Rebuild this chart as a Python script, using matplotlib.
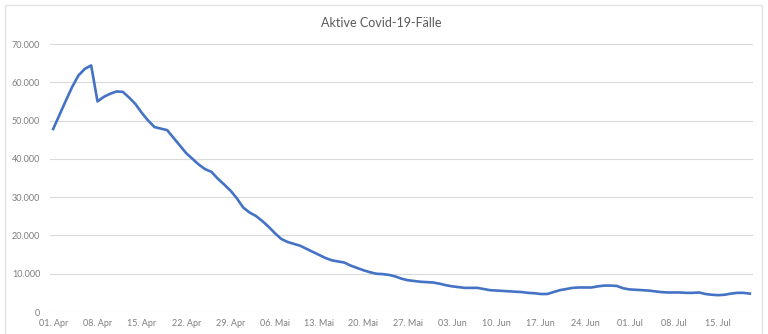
import matplotlib.pyplot as plt
import matplotlib.dates as mdates
import pandas as pd
from matplotlib.patches import Rectangle
from matplotlib.ticker import FuncFormatter, MultipleLocator

TITLE = "Aktive Covid-19-Fälle"
START = "2020-04-01"

# active cases per day, 01. Apr .. 20. Jul
active = [
    47800, 51500, 55200, 58800, 61800, 63500, 64400, 55000, 56200, 57000,
    57600, 57500, 56000, 54300, 52000, 50000, 48300, 47900, 47500, 45500,
    43500, 41500, 40000, 38500, 37300, 36600, 34800, 33300, 31700, 29700,
    27300, 26000, 25100, 23800, 22300, 20600, 19100, 18300, 17800, 17300,
    16500, 15700, 14900, 14100, 13500, 13200, 12900, 12100, 11500, 10900,
    10400, 10000, 9900, 9700, 9300, 8700, 8300, 8100, 7900, 7800,
    7700, 7400, 7000, 6700, 6500, 6300, 6300, 6300, 6000, 5700,
    5600, 5500, 5400, 5300, 5200, 5000, 4900, 4700, 4700, 5200,
    5700, 6000, 6300, 6400, 6400, 6400, 6700, 6900, 6900, 6800,
    6200, 5900, 5800, 5700, 5600, 5400, 5200, 5100, 5100, 5100,
    5000, 5000, 5100, 4700, 4500, 4400, 4500, 4800, 5000, 5000,
    4800,
]
tick_labels = ["01. Apr", "08. Apr", "15. Apr", "22. Apr", "29. Apr", "06. Mai",
               "13. Mai", "20. Mai", "27. Mai", "03. Jun", "10. Jun", "17. Jun",
               "24. Jun", "01. Jul", "08. Jul", "15. Jul"]

dates = pd.date_range(START, periods=len(active), freq="D")
tick_dates = pd.date_range(START, periods=len(tick_labels), freq="7D")

plt.rcParams["font.family"] = ["Lato", "DejaVu Sans"]

fig = plt.figure(figsize=(7.68, 3.34), dpi=100)
ax = fig.add_axes([50 / 768, 22 / 334, 703 / 768, 268 / 334])

# chart frame like the spreadsheet export
fig.patches.append(Rectangle((5 / 768, -0.02), 757 / 768, 1.005, transform=fig.transFigure,
                             fill=False, edgecolor="#e3e3e3", linewidth=1.0))

ax.plot(dates, active, color="#4472c4", linewidth=1.9, solid_joinstyle="round")

half = pd.Timedelta(hours=12)
ax.set_xlim(dates[0] - half, dates[-1] + half)
ax.set_ylim(0, 70000)
ax.yaxis.set_major_locator(MultipleLocator(10000))
ax.yaxis.set_major_formatter(FuncFormatter(lambda v, _: f"{int(v):,}".replace(",", ".")))
ax.set_xticks(mdates.date2num(tick_dates))
ax.set_xticklabels(tick_labels)

ax.grid(axis="y", color="#d9d9d9", linewidth=0.8)
ax.set_axisbelow(True)
for s in ax.spines.values():
    s.set_visible(False)
ax.tick_params(length=0, labelsize=6.5, colors="#7f7f7f")
ax.tick_params(axis="y", pad=7)
ax.tick_params(axis="x", pad=5)

fig.text(0.497, 1 - 23 / 334, TITLE, ha="center", va="center", fontsize=9, color="#595959")

fig.savefig("out.png", dpi=100)
